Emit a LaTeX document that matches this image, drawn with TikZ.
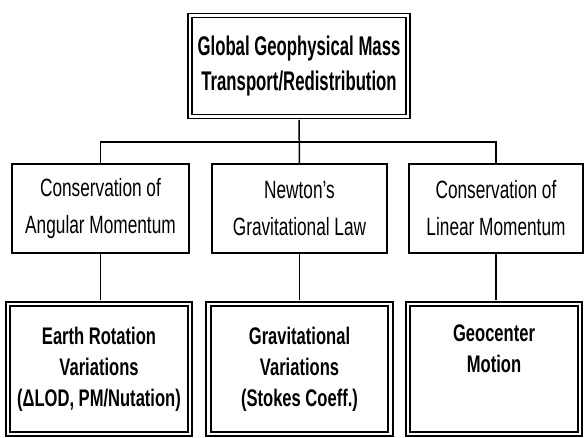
\documentclass[tikz,border=0pt]{standalone}
\usepackage{fontspec}
\setmainfont{Liberation Sans}
\newfontfamily\lawfont[FakeStretch=0.69]{Liberation Sans}
\newfontfamily\headfont[FakeStretch=0.62]{Liberation Sans}
\newfontfamily\effectfont[FakeStretch=0.69]{Liberation Sans}
\usetikzlibrary{calc, positioning}

\begin{document}
\begin{tikzpicture}[x=1pt, y=-1pt, line width=1.5pt,
  topbox/.style={draw, double, double distance=2.5pt, line width=1.5pt,
    minimum width=218pt, minimum height=101pt, inner sep=0pt, align=center,
    font=\headfont\bfseries\fontsize{27}{35}\selectfont},
  lawbox/.style={draw, line width=1.5pt, minimum height=89pt, inner sep=0pt,
    align=center, font=\lawfont\fontsize{25}{37}\selectfont},
  effbox/.style={draw, double, double distance=2.5pt, line width=2pt,
    minimum height=130pt, inner sep=0pt, align=center,
    font=\effectfont\bfseries\fontsize{24}{31}\selectfont}]
\useasboundingbox (0,0) rectangle (584,437);
% top
\node[topbox] (mass) at (299,66) {Global Geophysical Mass\\Transport/Redistribution};
% conservation laws
\node[lawbox, minimum width=177pt] (angular) at (100.5,208.5) {Conservation of\\Angular Momentum};
\node[lawbox, minimum width=175pt] (newton) at (299.5,208.5) {Newton’s\\Gravitational Law};
\node[lawbox, minimum width=174pt] (linear) at (496,208.5) {Conservation of\\Linear Momentum};
% observed effects
\node[effbox, minimum width=182pt] (rotation) at (99,369) {Earth Rotation\\Variations\\(ΔLOD, PM/Nutation)};
\node[effbox, minimum width=182pt] (gravity) at (299.5,369) {Gravitational\\Variations\\(Stokes Coeff.)};
\node[effbox, minimum width=172pt] (geocenter) at (494,369) {Geocenter\\Motion\\\strut};
% connectors
\coordinate (bus) at (299,142);
\draw[shorten <=2.7pt] (mass.south) -- (newton.north);
\draw (angular.north) |- (bus) -| (linear.north);
\draw[shorten >=3.2pt] (angular.south) -- (angular.south |- rotation.north);
\draw[shorten >=3.2pt] (newton.south) -- (newton.south |- gravity.north);
\draw[shorten >=3.2pt] (linear.south) -- (linear.south |- geocenter.north);
\end{tikzpicture}
\end{document}
